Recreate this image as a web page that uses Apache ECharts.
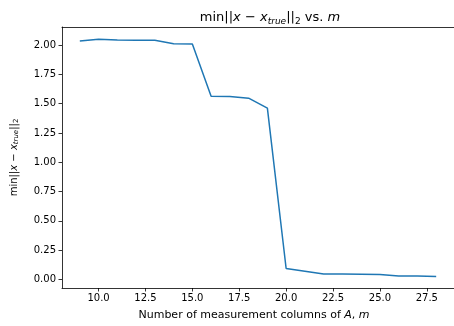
<!DOCTYPE html>
<html>
<head>
<meta charset="utf-8">
<script src="https://cdn.jsdelivr.net/npm/echarts@6/dist/echarts.min.js"></script>
<style>
  html, body { margin: 0; padding: 0; background: #fff; }
  #chart { width: 454px; height: 326px; }
</style>
</head>
<body>
<div id="chart"></div>
<script>
// number of measurement columns
const mValues = [9, 10, 11, 12, 13, 14, 15, 16, 17, 18, 19, 20, 21, 22, 23, 24, 25, 26, 27, 28]
// min ||x - x_true||_2
const errValues = [2.034, 2.048, 2.042, 2.04, 2.04, 2.011, 2.008, 1.563, 1.56, 1.546, 1.461,
  0.094, 0.071, 0.048, 0.047, 0.045, 0.043, 0.031, 0.03, 0.026]
const xTicks = [10, 12.5, 15, 17.5, 20, 22.5, 25, 27.5]
const yTicks = [0, 0.25, 0.5, 0.75, 1.0, 1.25, 1.5, 1.75, 2.0]

const font = 'DejaVu Sans'
const chart = echarts.init(document.getElementById('chart'))

const axisLine = { show: true, onZero: false, lineStyle: { color: '#000', width: 0.8 } }

const option = {
  animation: false,
  title: {
    text: 'min||{i|x} − {i|x}{isub|true}||{sub|2} vs. {i|m}',
    left: 265,
    textAlign: 'center',
    top: 5,
    textStyle: {
      fontFamily: font,
      fontSize: 13,
      fontWeight: 'normal',
      color: '#000',
      rich: {
        i: { fontFamily: font, fontSize: 13, fontStyle: 'italic', color: '#000' },
        isub: { fontFamily: font, fontSize: 9, fontStyle: 'italic', color: '#000', verticalAlign: 'bottom', padding: [7, 0, 0, 0] },
        sub: { fontFamily: font, fontSize: 9, color: '#000', verticalAlign: 'bottom', padding: [7, 0, 0, 0] }
      }
    }
  },
  grid: { left: 62, right: -11, top: 27, bottom: 37.5, containLabel: false },
  xAxis: [{
    type: 'value',
    min: 8.05,
    max: 28.95,
    name: 'Number of measurement columns of {i|A}, {i|m}',
    nameLocation: 'middle',
    nameGap: 22,
    nameTextStyle: {
      fontFamily: font,
      fontSize: 11,
      color: '#000',
      padding: [0, 8, 0, 0],
      rich: { i: { fontFamily: font, fontSize: 11, fontStyle: 'italic', color: '#000' } }
    },
    splitLine: { show: false },
    axisLine: axisLine,
    axisTick: { show: true, length: 3.5, customValues: xTicks, lineStyle: { color: '#000', width: 0.8 } },
    axisLabel: {
      customValues: xTicks,
      formatter: v => v.toFixed(1),
      fontFamily: font, fontSize: 10, color: '#000', margin: 5
    }
  }, {
    // top spine of the axes box
    type: 'value', position: 'top', min: 8.05, max: 28.95,
    axisLine: axisLine,
    axisTick: { show: false }, axisLabel: { show: false }, splitLine: { show: false }
  }],
  yAxis: {
    type: 'value',
    min: -0.072,
    max: 2.153,
    name: 'min||{i|x} − {i|x}{isub|true}||{sub|2}',
    nameLocation: 'middle',
    nameRotate: 90,
    nameGap: 42,
    nameTextStyle: {
      fontFamily: font,
      fontSize: 10,
      color: '#000',
      rich: {
        i: { fontFamily: font, fontSize: 10, fontStyle: 'italic', color: '#000' },
        isub: { fontFamily: font, fontSize: 7, fontStyle: 'italic', color: '#000', verticalAlign: 'bottom', padding: [5, 0, 0, 0] },
        sub: { fontFamily: font, fontSize: 7, color: '#000', verticalAlign: 'bottom', padding: [5, 0, 0, 0] }
      }
    },
    splitLine: { show: false },
    axisLine: axisLine,
    axisTick: { show: true, length: 3.5, customValues: yTicks, lineStyle: { color: '#000', width: 0.8 } },
    axisLabel: {
      customValues: yTicks,
      formatter: v => v.toFixed(2),
      fontFamily: font, fontSize: 10, color: '#000', margin: 6
    }
  },
  series: [{
    type: 'line',
    data: mValues.map((m, i) => [m, errValues[i]]),
    showSymbol: false,
    lineStyle: { color: '#1f77b4', width: 1.5 },
    itemStyle: { color: '#1f77b4' }
  }]
}

chart.setOption(option)
</script>
</body>
</html>
